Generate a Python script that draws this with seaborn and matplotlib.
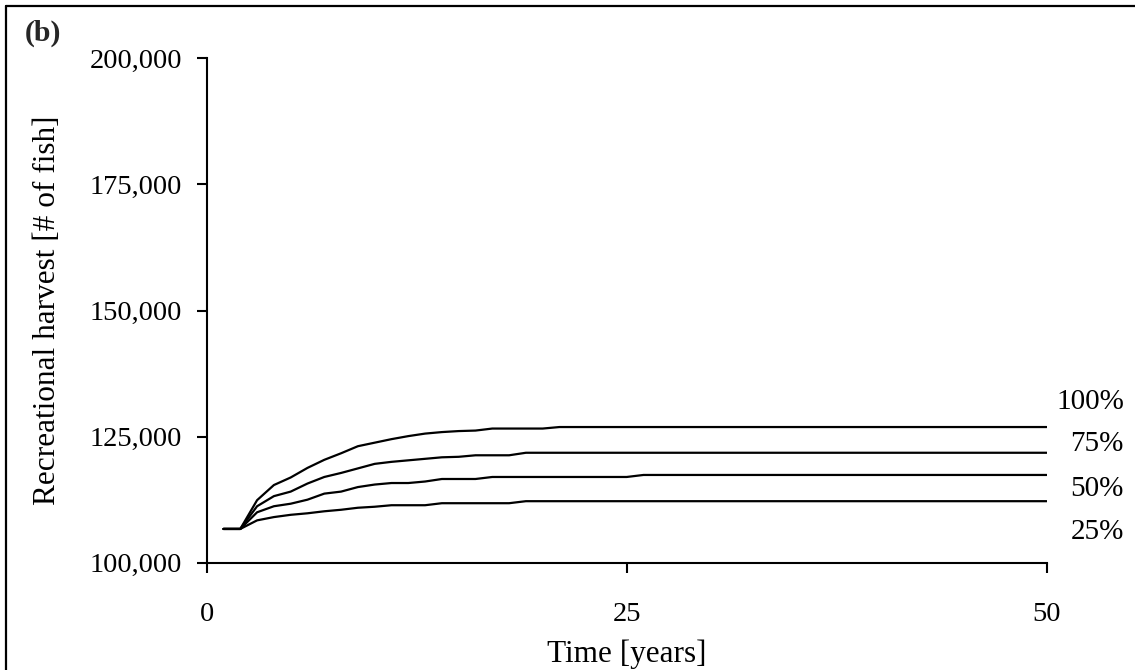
import pandas as pd
import matplotlib
matplotlib.use("Agg")
import matplotlib.pyplot as plt
from matplotlib.lines import Line2D
from matplotlib.ticker import FuncFormatter
import seaborn as sns

# Years simulated
years = list(range(1, 51))

# Recreational harvest [# of fish] per scenario
harvest_100 = [106700, 106700, 112400, 115400, 116900, 118800, 120400, 121700, 123100, 123800,
               124500, 125100, 125600, 125900, 126100, 126200, 126600, 126600, 126600, 126600,
               126900, 126900, 126900, 126900, 126900, 126900, 126900, 126900, 126900, 126900,
               126900, 126900, 126900, 126900, 126900, 126900, 126900, 126900, 126900, 126900,
               126900, 126900, 126900, 126900, 126900, 126900, 126900, 126900, 126900, 126900]
harvest_75 = [106700, 106700, 111200, 113200, 114100, 115700, 117000, 117800, 118700, 119600,
              120000, 120300, 120600, 120900, 121000, 121300, 121300, 121300, 121800, 121800,
              121800, 121800, 121800, 121800, 121800, 121800, 121800, 121800, 121800, 121800,
              121800, 121800, 121800, 121800, 121800, 121800, 121800, 121800, 121800, 121800,
              121800, 121800, 121800, 121800, 121800, 121800, 121800, 121800, 121800, 121800]
harvest_50 = [106700, 106700, 110000, 111200, 111700, 112500, 113700, 114100, 115000, 115500,
              115800, 115800, 116100, 116600, 116600, 116600, 117000, 117000, 117000, 117000,
              117000, 117000, 117000, 117000, 117000, 117400, 117400, 117400, 117400, 117400,
              117400, 117400, 117400, 117400, 117400, 117400, 117400, 117400, 117400, 117400,
              117400, 117400, 117400, 117400, 117400, 117400, 117400, 117400, 117400, 117400]
harvest_25 = [106700, 106700, 108400, 109050, 109500, 109800, 110200, 110500, 110900, 111100,
              111400, 111400, 111400, 111800, 111800, 111800, 111800, 111800, 112200, 112200,
              112200, 112200, 112200, 112200, 112200, 112200, 112200, 112200, 112200, 112200,
              112200, 112200, 112200, 112200, 112200, 112200, 112200, 112200, 112200, 112200,
              112200, 112200, 112200, 112200, 112200, 112200, 112200, 112200, 112200, 112200]

scenario_names = ["100%", "75%", "50%", "25%"]
# where the end labels sit (y value of text centre)
label_y = [131900, 123500, 114700, 106100]

x_ticks = [0, 25, 50]
y_ticks = [100000, 125000, 150000, 175000, 200000]


def build_frame():
    """Long-form table for seaborn"""
    series = [harvest_100, harvest_75, harvest_50, harvest_25]
    rows = []
    for name, values in zip(scenario_names, series):
        for yr, val in zip(years, values):
            rows.append({"year": yr, "harvest": val, "scenario": name})
    return pd.DataFrame(rows)


def main():
    sns.set_style("white")
    plt.rcParams["font.family"] = ["Liberation Serif", "DejaVu Serif"]
    fs = 20.5      # tick labels
    fs_title = 22.5  # axis titles

    df = build_frame()

    fig = plt.figure(figsize=(11.35, 6.7), dpi=100)
    ax = fig.add_axes([0.1821, 0.1601, 0.7401, 0.7529])

    sns.lineplot(data=df, x="year", y="harvest", hue="scenario",
                 palette=["black"] * 4, legend=False, linewidth=1.6, ax=ax)

    ax.set_xlim(0, 50)
    ax.set_ylim(100000, 200000)
    ax.set_xticks(x_ticks)
    ax.set_yticks(y_ticks)
    ax.yaxis.set_major_formatter(FuncFormatter(lambda v, p: f"{int(v):,}"))

    sns.despine(ax=ax)
    for side in ["left", "bottom"]:
        ax.spines[side].set_linewidth(1.5)
        ax.spines[side].set_color("black")

    ax.tick_params(axis="both", direction="out", length=7.2, width=1.5,
                   color="black", labelsize=fs, labelcolor="black")
    ax.tick_params(axis="y", pad=10.5)
    ax.tick_params(axis="x", pad=21)
    ax.tick_params(bottom=True, left=True)

    ax.set_xlabel("Time [years]", fontsize=fs_title, color="black", labelpad=9)
    ax.set_ylabel("Recreational harvest [# of fish]", fontsize=fs_title,
                  color="black", labelpad=20)

    # scenario labels at the right end of the lines
    for name, yv in zip(scenario_names, label_y):
        ax.text(54.6, yv, name, ha="right", va="center", fontsize=21,
                color="black", clip_on=False)

    # panel label
    fig.text(25 / 1135, 1 - 33 / 670, "(b)", fontsize=21.5, fontweight="bold",
             ha="left", va="center")

    # frame round the panel (only left and top show in the crop)
    fig.add_artist(Line2D([6 / 1135, 6 / 1135], [0, 1 - 6 / 670],
                          transform=fig.transFigure, color="black", linewidth=1.6))
    fig.add_artist(Line2D([6 / 1135, 1], [1 - 6 / 670, 1 - 6 / 670],
                          transform=fig.transFigure, color="black", linewidth=1.6))

    fig.savefig("out.png", dpi=100, facecolor="white")


if __name__ == "__main__":
    main()
